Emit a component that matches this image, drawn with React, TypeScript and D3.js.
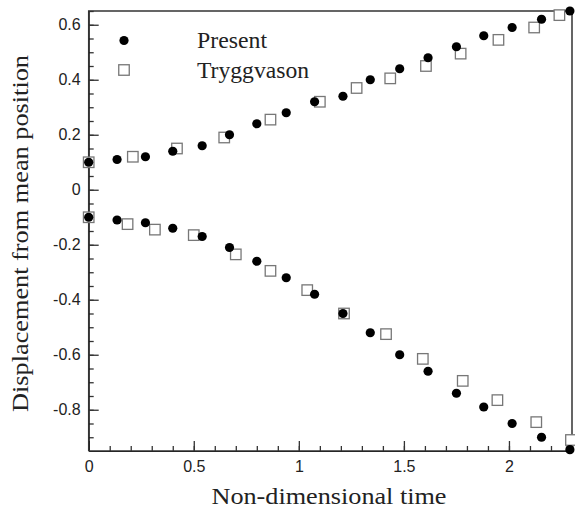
import React, { useEffect, useRef } from "react";
import * as d3 from "d3";

// Present simulation (filled circles)
const presentTime = [0, 0.135, 0.27, 0.4, 0.54, 0.67, 0.8, 0.94, 1.075, 1.21, 1.34, 1.48, 1.615, 1.75, 1.88, 2.015, 2.155, 2.29];
const presentUpper = [0.1, 0.11, 0.12, 0.14, 0.16, 0.2, 0.24, 0.28, 0.32, 0.34, 0.4, 0.44, 0.48, 0.52, 0.56, 0.59, 0.62, 0.65];
const presentLower = [-0.1, -0.11, -0.12, -0.14, -0.17, -0.21, -0.26, -0.32, -0.38, -0.45, -0.52, -0.6, -0.66, -0.74, -0.79, -0.85, -0.9, -0.945];

// Tryggvason (open squares)
const tryggUpperTime = [0, 0.21, 0.42, 0.645, 0.865, 1.1, 1.275, 1.435, 1.605, 1.77, 1.95, 2.12, 2.24];
const tryggUpper = [0.1, 0.12, 0.15, 0.19, 0.255, 0.32, 0.37, 0.405, 0.45, 0.495, 0.545, 0.59, 0.635];
const tryggLowerTime = [0, 0.185, 0.315, 0.5, 0.7, 0.865, 1.04, 1.215, 1.415, 1.59, 1.78, 1.945, 2.13, 2.295];
const tryggLower = [-0.1, -0.125, -0.145, -0.165, -0.235, -0.295, -0.365, -0.45, -0.525, -0.615, -0.695, -0.765, -0.845, -0.91];

const xTicks = [0, 0.5, 1, 1.5, 2];
const yTicks = [-0.8, -0.6, -0.4, -0.2, 0, 0.2, 0.4, 0.6];
const xMinorTicks = d3.range(1, 24).map(i => i / 10);
const yMinorTicks = d3.range(-18, 14).map(i => i / 20);

const xDomain = [0, 2.3];
const yDomain = [-0.95, 0.65];

const legendLabels = ["Present", "Tryggvason"];

export default function App() {
	const ref = useRef<SVGSVGElement>(null);

	useEffect(() => {
		document.body.style.margin = "0";
		const w = 575;
		const h = 511;
		const left = 88.7;
		const right = 572;
		const top = 11;
		const bottom = 451;
		const axisColor = "#333";
		const fmt = (d: any) => String(+d.toFixed(2));

		const x = d3.scaleLinear().domain(xDomain).range([left, right]);
		const y = d3.scaleLinear().domain(yDomain).range([bottom, top]);

		const svg = d3.select(ref.current).html("").attr("width", w).attr("height", h);

		svg.append("rect").attr("width", w).attr("height", h).attr("fill", "#fff");

		// minor ticks
		svg
			.append("g")
			.attr("transform", `translate(0, ${bottom})`)
			.call(d3.axisBottom(x).tickValues(xMinorTicks).tickSizeInner(-5).tickSizeOuter(0).tickFormat(() => ""))
			.call(g => g.select(".domain").remove());
		svg
			.append("g")
			.attr("transform", `translate(${left}, 0)`)
			.call(d3.axisLeft(y).tickValues(yMinorTicks).tickSizeInner(-5).tickSizeOuter(0).tickFormat(() => ""))
			.call(g => g.select(".domain").remove());

		// x-axis
		const xAxis = svg
			.append("g")
			.attr("transform", `translate(0, ${bottom})`)
			.call(d3.axisBottom(x).tickValues(xTicks).tickSizeInner(-10).tickSizeOuter(0).tickPadding(10).tickFormat(fmt));

		// y-axis
		const yAxis = svg
			.append("g")
			.attr("transform", `translate(${left}, 0)`)
			.call(d3.axisLeft(y).tickValues(yTicks).tickSizeInner(-10).tickSizeOuter(0).tickPadding(8).tickFormat(fmt));

		[xAxis, yAxis].forEach(g => {
			g.selectAll("text")
				.attr("font-family", "'Liberation Sans', Arial, sans-serif")
				.attr("font-size", 16)
				.attr("fill", "#222");
		});

		svg.selectAll(".tick line").attr("stroke", axisColor).attr("stroke-width", 1.3);

		// frame
		svg
			.append("path")
			.attr("d", `M${left},${bottom}V${top}H${right}V${bottom}H${left}`)
			.attr("fill", "none")
			.attr("stroke", axisColor)
			.attr("stroke-width", 1.5);

		// squares
		const sq = 10.5;
		const squares = [
			...tryggUpperTime.map((t, i) => [t, tryggUpper[i]]),
			...tryggLowerTime.map((t, i) => [t, tryggLower[i]])
		];
		svg
			.append("g")
			.selectAll("rect")
			.data(squares)
			.join("rect")
			.attr("x", d => x(d[0]) - sq / 2)
			.attr("y", d => y(d[1]) - sq / 2)
			.attr("width", sq)
			.attr("height", sq)
			.attr("fill", "#fff")
			.attr("stroke", "#777")
			.attr("stroke-width", 1.3);

		// circles
		const circles = [
			...presentTime.map((t, i) => [t, presentUpper[i]]),
			...presentTime.map((t, i) => [t, presentLower[i]])
		];
		svg
			.append("g")
			.selectAll("circle")
			.data(circles)
			.join("circle")
			.attr("cx", d => x(d[0]))
			.attr("cy", d => y(d[1]))
			.attr("r", 4.6)
			.attr("fill", "#000");

		// legend
		const legend = svg.append("g").attr("transform", "translate(124, 40.5)");
		legend.append("circle").attr("r", 4.6).attr("fill", "#000");
		legend
			.append("rect")
			.attr("x", -sq / 2)
			.attr("y", 29.5 - sq / 2)
			.attr("width", sq)
			.attr("height", sq)
			.attr("fill", "#fff")
			.attr("stroke", "#777")
			.attr("stroke-width", 1.3);
		legend
			.selectAll("text")
			.data(legendLabels)
			.join("text")
			.attr("x", 73)
			.attr("y", (d, i) => 7.5 + i * 30)
			.attr("font-family", "'Liberation Serif', 'Times New Roman', serif")
			.attr("font-size", 23)
			.attr("fill", "#222")
			.attr("textLength", (d, i) => (i === 0 ? 70 : 112))
			.attr("lengthAdjust", "spacingAndGlyphs")
			.text(d => d);

		// x-axis label
		svg
			.append("text")
			.attr("x", 329)
			.attr("y", 504)
			.attr("text-anchor", "middle")
			.attr("font-family", "'Liberation Serif', 'Times New Roman', serif")
			.attr("font-size", 24)
			.attr("fill", "#222")
			.attr("textLength", 235)
			.attr("lengthAdjust", "spacingAndGlyphs")
			.text("Non-dimensional time");

		// y-axis label
		svg
			.append("text")
			.attr("transform", "translate(28, 233.5) rotate(-90)")
			.attr("text-anchor", "middle")
			.attr("font-family", "'Liberation Serif', 'Times New Roman', serif")
			.attr("font-size", 24)
			.attr("fill", "#222")
			.attr("textLength", 357)
			.attr("lengthAdjust", "spacingAndGlyphs")
			.text("Displacement from mean position");
	}, []);

	return <svg ref={ref} style={{ display: "block" }}></svg>;
}
